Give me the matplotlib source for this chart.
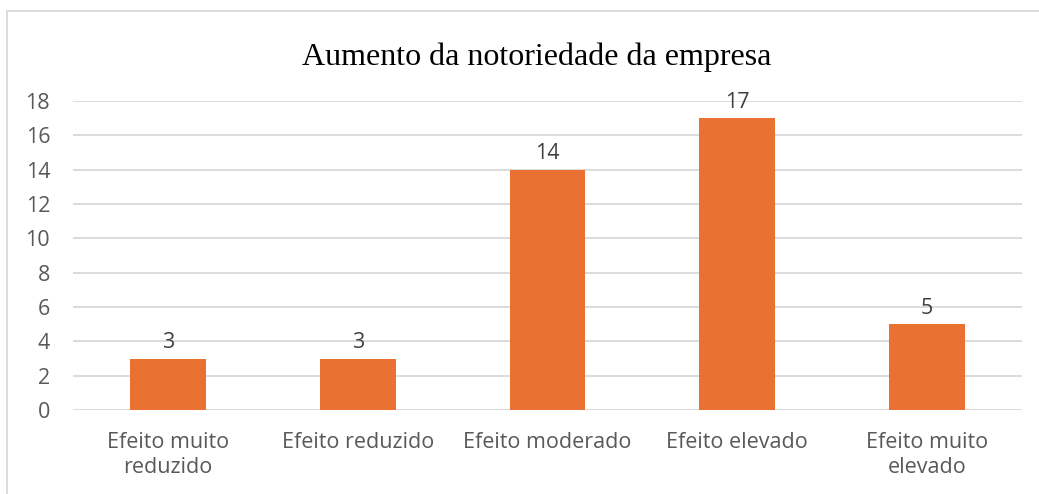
import numpy as np
from matplotlib import pyplot as plt
from matplotlib.patches import Rectangle

categories = ['Efeito muito\nreduzido', 'Efeito reduzido', 'Efeito moderado',
              'Efeito elevado', 'Efeito muito\nelevado']
values = [3, 3, 14, 17, 5]
yticks = [0, 2, 4, 6, 8, 10, 12, 14, 16, 18]
title = 'Aumento da notoriedade da empresa'

W, H = 1039, 494
fig = plt.figure(figsize=(W / 100, H / 100), dpi=100)

# chart frame (cut off at right and bottom like the reference)
fig.patches.append(Rectangle((7 / W, -0.5), 1.2, 1.5 - 11 / H, transform=fig.transFigure,
                             fill=False, edgecolor='#d9d9d9', linewidth=1.3))

ax = fig.add_axes([73 / W, 1 - 410 / H, (1022 - 73) / W, (410 - 101) / H])
x = np.arange(len(categories))
bars = ax.bar(x, values, width=0.4, color='#e97132', zorder=3)

fs = 15.5
ax.set_xlim(-0.5, len(categories) - 0.5)
ax.set_ylim(0, 18)
ax.set_yticks(yticks)
ax.yaxis.grid(True, color='#d9d9d9', linewidth=1.3, zorder=0)
for s in ax.spines.values():
    s.set_visible(False)
ax.tick_params(length=0)
ax.set_yticklabels([str(t) for t in yticks], fontsize=fs, color='#595959',
                   family='Open Sans')
ax.set_xticks(x)
ax.set_xticklabels(categories, fontsize=fs, color='#595959', family='Open Sans',
                   linespacing=1.25)
ax.tick_params(axis='x', pad=16)
ax.tick_params(axis='y', pad=16.5)

for b, v in zip(bars, values):
    ax.annotate(str(v), (b.get_x() + b.get_width() / 2, v), xytext=(0, 4),
                textcoords='offset points', ha='center', va='bottom',
                fontsize=fs, color='#404040', family='Open Sans')

fig.text(537 / W, 1 - 65 / H, title, ha='center', va='baseline',
         fontsize=23, family='Liberation Serif', color='black')

fig.savefig('out.png', dpi=100)
